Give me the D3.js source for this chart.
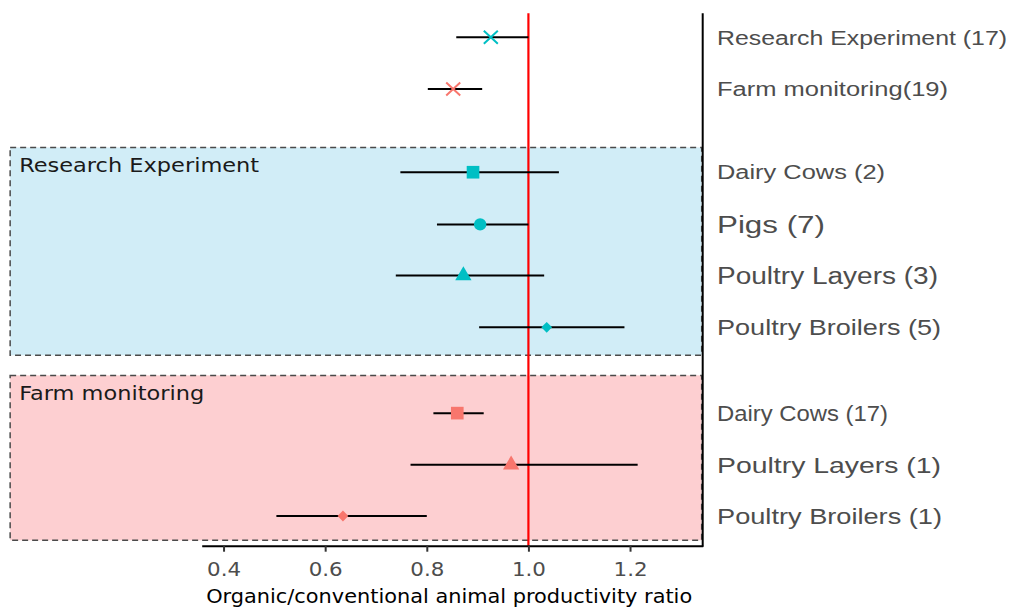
<!DOCTYPE html>
<html>
<head>
<meta charset="utf-8">
<script src="https://cdn.jsdelivr.net/npm/d3@7"></script>
<style>
  html, body { margin: 0; padding: 0; background: #ffffff; }
  svg { display: block; }
</style>
</head>
<body>
<svg id="chart" width="1012" height="610"></svg>
<script>
// ---------------- data ----------------
const rowLabels = [
  "Research Experiment (17)",
  "Farm monitoring(19)",
  "Dairy Cows (2)",
  "Pigs (7)",
  "Poultry Layers (3)",
  "Poultry Broilers (5)",
  "Dairy Cows (17)",
  "Poultry Layers (1)",
  "Poultry Broilers (1)"
];
const rowGroup = ["RE", "FM", "RE", "RE", "RE", "RE", "FM", "FM", "FM"];
const rowShape = ["cross", "cross", "square", "circle", "triangle", "diamond", "square", "triangle", "diamond"];
// position of each row on the (continuous) vertical axis, in row units
const rowPos = [0, 1, 2.61, 3.62, 4.61, 5.61, 7.27, 8.27, 9.26];
const meanVals = [0.926, 0.852, 0.891, 0.905, 0.872, 1.036, 0.860, 0.966, 0.635];
const lowVals  = [0.858, 0.802, 0.748, 0.820, 0.739, 0.903, 0.813, 0.768, 0.504];
const highVals = [1.000, 0.909, 1.060, 1.000, 1.031, 1.189, 0.912, 1.215, 0.800];
const xTicks = [0.4, 0.6, 0.8, 1.0, 1.2];
const refValue = 1.0;
const groupNames = ["Research Experiment", "Farm monitoring"];
const groupKeys = ["RE", "FM"];
// group shading boxes in data units
const boxXmin = [-0.02, -0.02];
const boxXmax = [1.341, 1.341];
const boxYmin = [2.13, 6.54];
const boxYmax = [6.15, 9.73];
const xTitle = "Organic/conventional animal productivity ratio";

// ---------------- styles ----------------
const colors = { RE: "#00BFC4", FM: "#F8766D" };
const boxFill = { RE: "#d1edf7", FM: "#fdcfd1" };
const labelFont = "'Liberation Sans', Arial, sans-serif";
const plotFont = "'DejaVu Sans', sans-serif";
const labelSizes = [20, 20, 20, 23, 23, 22.5, 21.5, 22, 22];
const labelWidths = [290, 231, 168, 108, 221, 224, 171, 224, 225];

// ---------------- scales ----------------
const svg = d3.select("#chart");
const x = d3.scaleLinear().domain([0.357, 1.343]).range([201.7, 702.7]);
const y = d3.scaleLinear().domain([0, 9.26]).range([37.3, 516]);
const panelTop = 13.3, panelBottom = 545.7;

const rows = rowLabels.map((label, i) => ({
  label, group: rowGroup[i], shape: rowShape[i], pos: rowPos[i],
  mean: meanVals[i], lo: lowVals[i], hi: highVals[i],
  size: labelSizes[i], width: labelWidths[i]
}));

// ---------------- group boxes ----------------
const boxes = groupNames.map((name, i) => ({
  name, key: groupKeys[i], x0: boxXmin[i], x1: boxXmax[i], y0: boxYmin[i], y1: boxYmax[i]
}));

svg.append("g").selectAll("rect").data(boxes).join("rect")
  .attr("x", d => x(d.x0))
  .attr("y", d => y(d.y0))
  .attr("width", d => x(d.x1) - x(d.x0))
  .attr("height", d => y(d.y1) - y(d.y0))
  .attr("fill", d => boxFill[d.key])
  .attr("stroke", "#4a4a4a")
  .attr("stroke-width", 1.5)
  .attr("stroke-dasharray", "6,4");

const boxLabelWidths = [240, 185];
svg.append("g").selectAll("text").data(boxes).join("text")
  .attr("x", d => x(d.x0) + 9)
  .attr("y", d => y(d.y0) + 25)
  .attr("font-family", plotFont)
  .attr("font-size", 19.5)
  .attr("fill", "#1a1a1a")
  .attr("textLength", (d, i) => boxLabelWidths[i])
  .attr("lengthAdjust", "spacingAndGlyphs")
  .text(d => d.name);

// ---------------- reference line ----------------
svg.append("line")
  .attr("x1", x(refValue)).attr("x2", x(refValue))
  .attr("y1", panelTop).attr("y2", panelBottom)
  .attr("stroke", "#ff0000")
  .attr("stroke-width", 2.2);

// ---------------- error bars ----------------
svg.append("g").selectAll("line").data(rows).join("line")
  .attr("x1", d => x(d.lo)).attr("x2", d => x(d.hi))
  .attr("y1", d => y(d.pos)).attr("y2", d => y(d.pos))
  .attr("stroke", "#000000")
  .attr("stroke-width", 2);

// ---------------- markers ----------------
function markerPath(shape) {
  if (shape === "cross") {
    const p = d3.path();
    p.moveTo(-7, -6.5); p.lineTo(7, 6.5);
    p.moveTo(-7, 6.5); p.lineTo(7, -6.5);
    return p.toString();
  }
  if (shape === "square") return d3.symbol(d3.symbolSquare, 160)();
  if (shape === "circle") return d3.symbol(d3.symbolCircle, 120)();
  if (shape === "triangle") return d3.symbol(d3.symbolTriangle, 115)();
  if (shape === "diamond") return d3.symbol(d3.symbolSquare, 58)();
  return "";
}

svg.append("g").selectAll("path").data(rows).join("path")
  .attr("d", d => markerPath(d.shape))
  .attr("transform", d => `translate(${x(d.mean)},${y(d.pos)})` + (d.shape === "diamond" ? " rotate(45)" : ""))
  .attr("fill", d => d.shape === "cross" ? "none" : colors[d.group])
  .attr("stroke", d => d.shape === "cross" ? colors[d.group] : "none")
  .attr("stroke-width", 2);

// ---------------- right axis (row labels) ----------------
svg.append("line")
  .attr("x1", x.range()[1]).attr("x2", x.range()[1])
  .attr("y1", panelTop).attr("y2", panelBottom + 1)
  .attr("stroke", "#000000")
  .attr("stroke-width", 2);

svg.append("g").selectAll("text").data(rows).join("text")
  .attr("x", 717)
  .attr("y", d => y(d.pos) + d.size * 0.36)
  .attr("font-family", labelFont)
  .attr("font-size", d => d.size)
  .attr("fill", "#4d4d4d")
  .attr("textLength", d => d.width)
  .attr("lengthAdjust", "spacingAndGlyphs")
  .text(d => d.label);

// ---------------- bottom axis ----------------
const xAxis = d3.axisBottom(x)
  .tickValues(xTicks)
  .tickFormat(d3.format(".1f"))
  .tickSizeOuter(0)
  .tickSizeInner(6)
  .tickPadding(10);

const gx = svg.append("g")
  .attr("transform", `translate(0,${panelBottom})`)
  .call(xAxis);
gx.select(".domain").attr("stroke", "#000000").attr("stroke-width", 2);
gx.selectAll(".tick line").attr("stroke", "#333333").attr("stroke-width", 2);
gx.selectAll(".tick text")
  .attr("font-family", plotFont)
  .attr("font-size", 19.5)
  .attr("fill", "#4d4d4d")
  .attr("dy", null)
  .attr("y", 30)
  .attr("textLength", 34)
  .attr("lengthAdjust", "spacingAndGlyphs");

svg.append("text")
  .attr("x", (x.range()[0] + x.range()[1]) / 2 - 3)
  .attr("y", 603)
  .attr("text-anchor", "middle")
  .attr("font-family", plotFont)
  .attr("font-size", 19.5)
  .attr("fill", "#000000")
  .attr("textLength", 486)
  .attr("lengthAdjust", "spacingAndGlyphs")
  .text(xTitle);
</script>
</body>
</html>
